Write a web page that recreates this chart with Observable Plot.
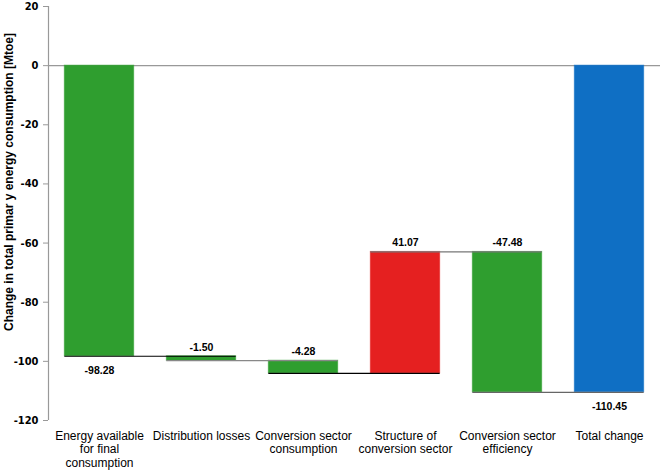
<!DOCTYPE html>
<html>
<head>
<meta charset="utf-8">
<script src="https://cdn.jsdelivr.net/npm/d3@7"></script>
<script src="https://cdn.jsdelivr.net/npm/@observablehq/plot@0.6"></script>
<style>
  html, body { margin: 0; padding: 0; background: #fff; }
</style>
</head>
<body>
<div id="chart"></div>
<script>
const categories = [
  "Energy available\nfor final\nconsumption",
  "Distribution losses",
  "Conversion sector\nconsumption",
  "Structure of\nconversion sector",
  "Conversion sector\nefficiency",
  "Total change"
];
const values = [-98.28, -1.50, -4.28, 41.07, -47.48, -110.45];
const isTotal = [false, false, false, false, false, true];
const yTicks = [-120, -100, -80, -60, -40, -20, 0, 20];
const yLabel = "Change in total primar y energy consumption [Mtoe]";

const GREEN = "#2f9e2f", RED = "#e52020", BLUE = "#0f6fc4";
const halfW = 0.34;

let cum = 0;
const rows = values.map((v, i) => {
  let start, end;
  if (isTotal[i]) { start = 0; end = v; }
  else { start = cum; end = cum + v; cum = end; }
  const below = i === 0 || isTotal[i];
  return {
    i, v, start, end,
    fill: isTotal[i] ? BLUE : (v < 0 ? GREEN : RED),
    labelY: below ? Math.min(start, end) : Math.max(start, end),
    below
  };
});
const connectorColors = ["#000", "#888", "#000", "#777", "#666"];
const connectors = rows.slice(0, -1).map((r, k) => ({
  x1: r.i - halfW, x2: r.i + 1 + halfW, y: r.end, stroke: connectorColors[k]
}));

const chart = Plot.plot({
  width: 662,
  height: 471,
  marginLeft: 48,
  marginRight: 2,
  marginTop: 6,
  marginBottom: 51,
  style: { fontFamily: "Liberation Sans, Arial, sans-serif", fontSize: "12px", color: "#000", background: "#fff" },
  x: { type: "linear", domain: [-0.5, 5.5], axis: null },
  y: { domain: [-120, 20], axis: null },
  marks: [
    Plot.ruleY([0], { stroke: "#999", strokeWidth: 1.2 }),
    Plot.rectY(rows, {
      x1: d => d.i - halfW, x2: d => d.i + halfW,
      y1: "start", y2: "end", fill: "fill",
      stroke: d => d.fill, strokeOpacity: 0.55, strokeWidth: 1
    }),
    Plot.ruleY(connectors, { x1: "x1", x2: "x2", y: "y", stroke: "stroke", strokeWidth: 1.2 }),
    Plot.text(rows, {
      x: "i", y: "labelY", text: d => d.v.toFixed(2),
      fontWeight: "bold", fontSize: 10.5,
      fontFamily: "Liberation Sans, Arial, sans-serif"
    }),
    Plot.ruleX([-0.5], { stroke: "#999", strokeWidth: 1.2 }),
    Plot.axisY(yTicks, { tickSize: 5, stroke: "#999", tickFormat: () => "", label: null }),
    Plot.axisY(yTicks, {
      tickSize: 0, tickPadding: 10, tickFormat: d => String(d),
      fontWeight: "bold", fontSize: 11, fontFamily: "DejaVu Sans Condensed, DejaVu Sans, sans-serif",
      label: null
    }),
    Plot.axisX(d3.range(categories.length), {
      tickSize: 0, tickPadding: 10, tickFormat: i => categories[i],
      lineHeight: 1.12, fontSize: 12, label: null
    })
  ]
});
document.getElementById("chart").appendChild(chart);

// value-label offsets: below-labels shift down, above-labels shift up
d3.select(chart).selectAll("g[aria-label='text'] text").each(function(_, k) {
  const r = rows[k];
  if (!r) return;
  d3.select(this).attr("dy", r.below ? "1.4em" : "-0.85em");
});
// y axis title
d3.select(chart).append("text")
  .attr("font-weight", "bold").attr("font-size", 12)
  .attr("font-family", "Liberation Sans, Arial, sans-serif")
  .attr("fill", "#000")
  .attr("text-anchor", "middle")
  .attr("transform", "translate(9,182) rotate(-90)")
  .attr("dy", "0.35em")
  .text(yLabel);
</script>
</body>
</html>
